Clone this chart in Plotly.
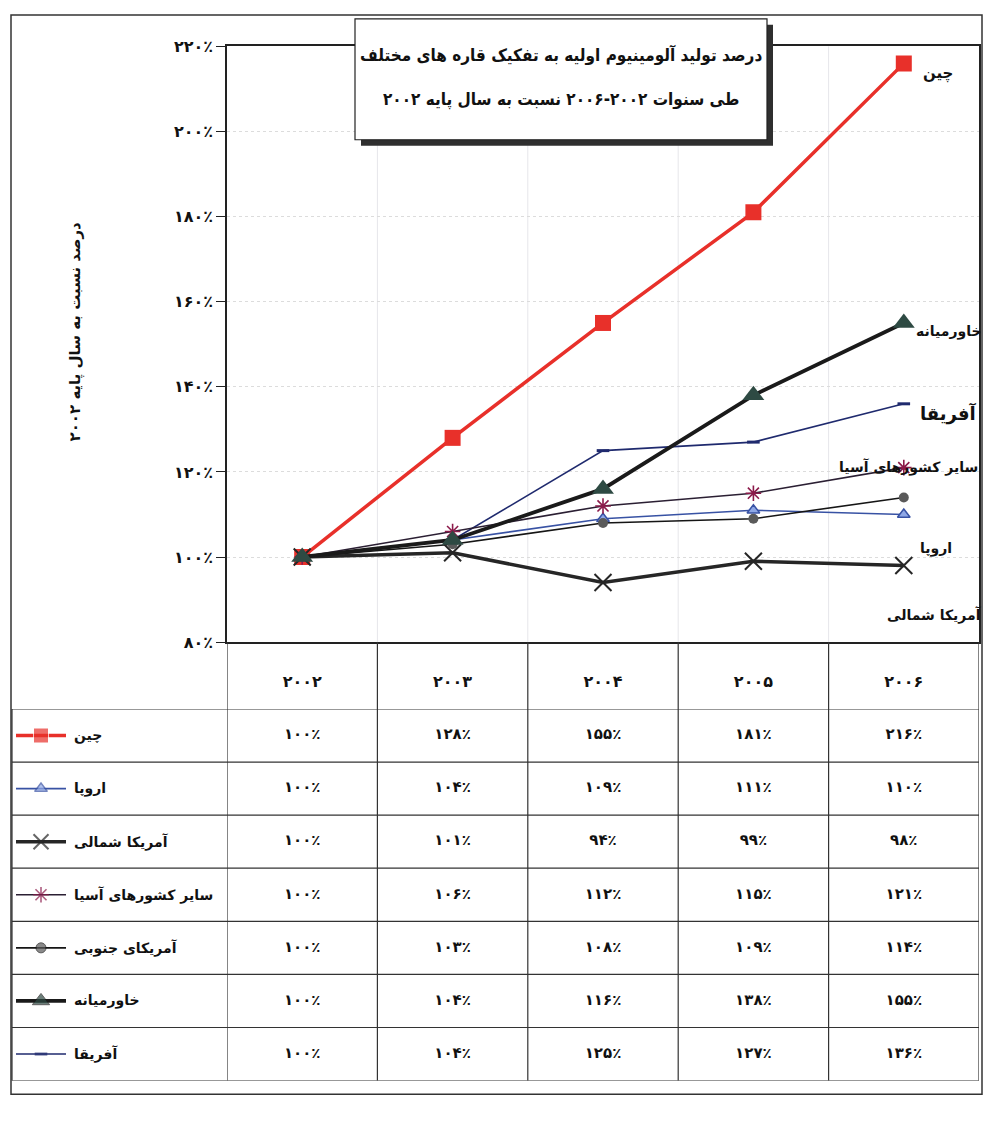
import plotly.graph_objects as go

W, H = 985, 1124
FONT = "DejaVu Sans"
FONT_TITLE = "DejaVu Sans Condensed, DejaVu Sans"

years = [2002, 2003, 2004, 2005, 2006]
series_names = ["چین", "اروپا", "آمریکا شمالی", "سایر کشورهای آسیا",
                "آمریکای جنوبی", "خاورمیانه", "آفریقا"]
china = [100, 128, 155, 181, 216]
europe = [100, 104, 109, 111, 110]
north_america = [100, 101, 94, 99, 98]
other_asia = [100, 106, 112, 115, 121]
south_america = [100, 103, 108, 109, 114]
middle_east = [100, 104, 116, 138, 155]
africa = [100, 104, 125, 127, 136]
y_ticks = [80, 100, 120, 140, 160, 180, 200, 220]

title_lines = ["درصد تولید آلومینیوم اولیه به تفکیک قاره های مختلف",
               "طی سنوات ۲۰۰۲-۲۰۰۶ نسبت به سال پایه ۲۰۰۲"]
y_title = "درصد نسبت به سال پایه ۲۰۰۲"

FA = str.maketrans("0123456789", "۰۱۲۳۴۵۶۷۸۹")


def fa(v):
    return str(v).translate(FA)


def pct(v):
    return fa(v) + "٪"


def px(x):
    return x / W


def py(y):
    return 1 - y / H


# pixel frame of the chart, the table and the legend column
PLOT_L, PLOT_R, PLOT_T, PLOT_B = 227, 979, 38, 644
ROW_T, ROW_B = 712, 1090
LEG_L = 12

values = [china, europe, north_america, other_asia, south_america, middle_east, africa]
styles = [
    dict(line=dict(color="#e8302a", width=3.5),
         marker=dict(symbol="square", size=16, color="#e8302a")),
    dict(line=dict(color="#3852a4", width=1.6),
         marker=dict(symbol="triangle-up", size=11, color="#8fa8e6",
                     line=dict(color="#3852a4", width=1.5))),
    dict(line=dict(color="#262626", width=3.5),
         marker=dict(symbol="x-thin", size=17, color="#262626",
                     line=dict(color="#262626", width=2))),
    dict(line=dict(color="#2b1f33", width=1.6),
         marker=dict(symbol="asterisk", size=13, color="#8b1a4a",
                     line=dict(color="#8b1a4a", width=1.6))),
    dict(line=dict(color="#151515", width=1.6),
         marker=dict(symbol="circle", size=10, color="#5a5a5a")),
    dict(line=dict(color="#1a1a1a", width=3.8),
         marker=dict(symbol="triangle-up", size=19, color="#2e4a43")),
    dict(line=dict(color="#1f2a6e", width=1.6),
         marker=dict(symbol="line-ew", size=9, color="#1f2a6e",
                     line=dict(color="#1f2a6e", width=3))),
]

cats = [fa(y) for y in years]
fig = go.Figure()

# drawing order keeps the heavy Middle East line on top
order = [0, 6, 1, 4, 3, 2, 5]
for i in order:
    fig.add_trace(go.Scatter(x=cats, y=values[i], mode="lines+markers",
                             name=series_names[i], showlegend=False,
                             hoverinfo="skip", **styles[i]))

# legend keys in the table's first column
for i in range(len(series_names)):
    st = styles[i]
    base = st["marker"]["size"]
    fig.add_trace(go.Scatter(x=[0, 0.5, 1], y=[i, i, i], mode="lines+markers",
                             xaxis="x2", yaxis="y2", showlegend=False, hoverinfo="skip",
                             line=st["line"],
                             marker={**st["marker"], "size": [0, min(base, 15), 0]}))

# table cell values
for i, vals in enumerate(values):
    fig.add_trace(go.Scatter(x=cats, y=[i] * len(vals), mode="text",
                             text=["<b>%s</b>" % pct(v) for v in vals],
                             xaxis="x", yaxis="y3",
                             textfont=dict(family=FONT, size=15, color="#111"),
                             showlegend=False, hoverinfo="skip"))

shapes = []
# table horizontal rules
for k in range(len(series_names) + 1):
    shapes.append(dict(type="line", xref="paper", yref="y3",
                       x0=px(LEG_L), x1=px(PLOT_R), y0=k - 0.5, y1=k - 0.5,
                       line=dict(color="#333", width=1.2)))
# table vertical rules
for k in range(len(years) + 1):
    shapes.append(dict(type="line", xref="x", yref="paper",
                       x0=k - 0.5, x1=k - 0.5, y0=py(PLOT_B), y1=py(ROW_B),
                       line=dict(color="#333", width=1.2)))
shapes.append(dict(type="line", xref="paper", yref="paper",
                   x0=px(LEG_L), x1=px(LEG_L), y0=py(ROW_T), y1=py(ROW_B),
                   line=dict(color="#333", width=1.2)))
# faint vertical guides in the chart area
for k in range(1, len(years)):
    shapes.append(dict(type="line", xref="x", yref="paper",
                       x0=k - 0.5, x1=k - 0.5, y0=py(PLOT_B), y1=py(PLOT_T),
                       line=dict(color="#e6e6ea", width=1), layer="below"))
# outer frame
shapes.append(dict(type="rect", xref="paper", yref="paper",
                   x0=px(11), x1=px(982), y0=py(1104), y1=py(6),
                   line=dict(color="#333", width=1.5)))
# title box with drop shadow
shapes.append(dict(type="rect", xref="paper", yref="paper",
                   x0=px(361), x1=px(773), y0=py(139), y1=py(16),
                   fillcolor="#2f2f2f", line=dict(width=0)))
shapes.append(dict(type="rect", xref="paper", yref="paper",
                   x0=px(355), x1=px(767), y0=py(133), y1=py(10),
                   fillcolor="white", line=dict(color="#222", width=1.2)))


def label(text, x, y, size, xanchor="center", yref="paper", angle=0, family=FONT):
    return dict(text="<b>%s</b>" % text, x=x, y=y, xref="paper", yref=yref,
                xanchor=xanchor, yanchor="middle", showarrow=False, textangle=angle,
                font=dict(family=family, size=size, color="#111"))


annotations = [
    label(title_lines[0], px(561), py(47), 17, family=FONT_TITLE),
    label(title_lines[1], px(561), py(92), 17, family=FONT_TITLE),
    label(y_title, px(75), py(328), 15, angle=-90),
]

# series names next to the line ends
end_labels = [
    (0, 938, 66, "center", 15),
    (5, 984, 328, "right", 14),
    (6, 948, 411, "center", 18),
    (3, 980, 466, "right", 14),
    (1, 936, 549, "center", 14),
    (2, 984, 616, "right", 14),
]
for idx, x, y, anchor, size in end_labels:
    annotations.append(label(series_names[idx], px(x), py(y), size, xanchor=anchor))

# legend names in the first table column
for i, name in enumerate(series_names):
    annotations.append(label(name, px(72), i, 14, xanchor="left", yref="y3"))

n_rows = len(series_names)
fig.update_layout(
    width=W, height=H, margin=dict(l=0, r=0, t=0, b=0),
    paper_bgcolor="white", plot_bgcolor="white",
    font=dict(family=FONT, color="#111"),
    xaxis=dict(domain=[px(PLOT_L), px(PLOT_R)], type="category", range=[-0.5, 4.5],
               tickvals=cats, ticktext=["<b>%s</b>" % c for c in cats],
               showgrid=False, showline=True, linecolor="#222", linewidth=1.5, mirror=True,
               ticks="", tickfont=dict(family=FONT, size=16, color="#111"),
               ticklabelstandoff=24, anchor="y", fixedrange=True),
    yaxis=dict(domain=[py(PLOT_B), py(PLOT_T)], range=[80, 220],
               tickvals=y_ticks, ticktext=["<b>%s</b>" % pct(v) for v in y_ticks],
               tickfont=dict(family=FONT, size=16, color="#111"),
               ticks="outside", ticklen=9, tickcolor="#222",
               showgrid=True, gridcolor="#dcdcdc", griddash="dot",
               showline=True, linecolor="#222", linewidth=1.5, mirror=True,
               zeroline=False, anchor="x", fixedrange=True),
    xaxis2=dict(domain=[px(16), px(66)], range=[0, 1], visible=False, anchor="y2",
                fixedrange=True),
    yaxis2=dict(domain=[py(ROW_B), py(ROW_T)], range=[n_rows - 0.5, -0.5], visible=False,
                anchor="x2", fixedrange=True),
    yaxis3=dict(domain=[py(ROW_B), py(ROW_T)], range=[n_rows - 0.5, -0.5], visible=False,
                anchor="free", position=px(PLOT_L), fixedrange=True),
    shapes=shapes, annotations=annotations,
)

fig.write_html("out.html")
